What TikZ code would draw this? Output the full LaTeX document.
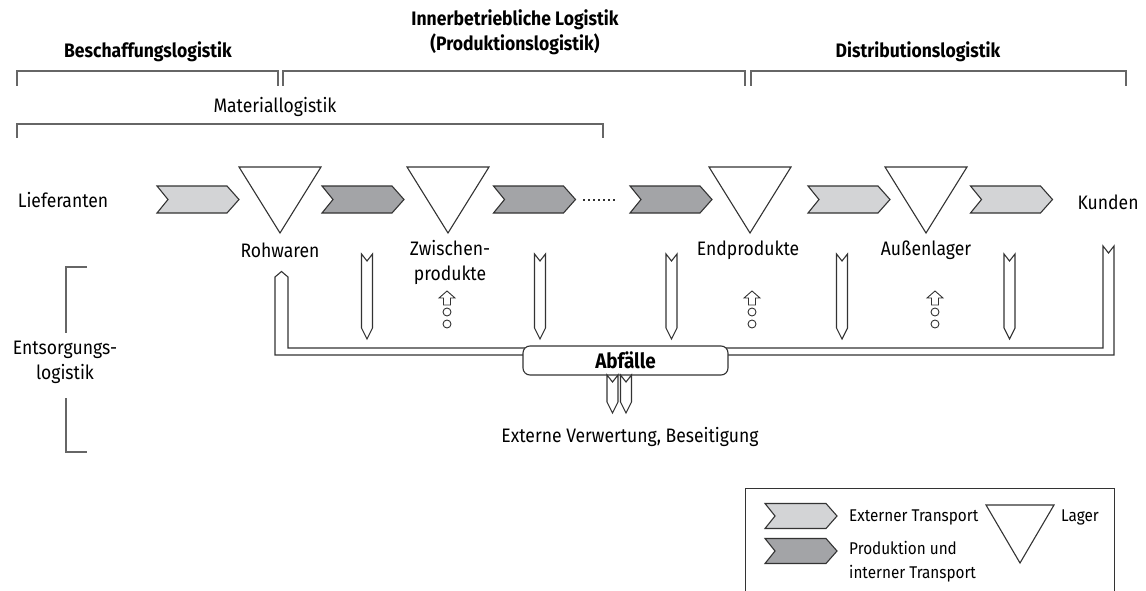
\documentclass[tikz,border=0pt]{standalone}
\usepackage{fontspec}
\setmainfont{Fira Sans}[FakeStretch=0.9]
\usetikzlibrary{calc}
\definecolor{extgray}{HTML}{D3D4D6}
\definecolor{prodgray}{HTML}{A3A4A7}
\definecolor{inkgray}{HTML}{333333}
\tikzset{>=latex}
\tikzset{
	outline/.style = {line width = 1.1pt, draw = inkgray, line join = miter},
	lbl/.style = {inner sep = 0pt, align = center, font = \fontsize{19.5}{25}\selectfont},
	head/.style = {lbl, font = \fontsize{19.5}{25}\selectfont\bfseries},
	legtxt/.style = {lbl, anchor = west, align = left, font = \fontsize{17}{24}\selectfont},
	brace/.style = {line width = 1.3pt, draw = black!60},
	pics/chev/.style = {code = {
		\draw[outline, fill = #1] (-41,-13.5) -- (29,-13.5) -- (41,0) -- (29,13.5)
			-- (-41,13.5) -- (-30,0) -- cycle;
	}},
	pics/smallchev/.style = {code = {
		\draw[outline, fill = #1] (-36,-12.5) -- (25,-12.5) -- (36,0) -- (25,12.5)
			-- (-36,12.5) -- (-26,0) -- cycle;
	}},
	pics/lager/.style = {code = {
		\draw[outline, fill = white] (-41,-33) -- (41,-33) -- (0,33) -- cycle;
	}},
	pics/tubedown/.style = {code = {
		\draw[outline, fill = white] (-5.5,0) -- (0,7) -- (5.5,0) -- (5.5,#1)
			-- (0,{#1 + 11}) -- (-5.5,#1) -- cycle;
	}},
	pics/uparrow/.style = {code = {
		\draw[outline, line width = 0.9pt] (0,0) -- (8,7) -- (3.5,7) -- (3.5,14)
			-- (-3.5,14) -- (-3.5,7) -- (-8,7) -- cycle;
		\draw[outline, line width = 0.9pt] (0,21) circle [radius = 4pt];
		\draw[outline, line width = 0.9pt] (0,33) circle [radius = 4pt];
	}}
}

\begin{document}
\begin{tikzpicture}[x = 1pt, y = -1pt]
\clip (0,0) rectangle (1146,591);

% headings and brackets
\node[head] (beschaff) at (148,52) {Beschaffungslogistik};
\node[head] (innerb) at (515,32) {Innerbetriebliche Logistik\\(Produktionslogistik)};
\node[head] (distrib) at (918,52) {Distributionslogistik};
\node[lbl] (matlog) at (275,107) {Materiallogistik};
\foreach \a/\b in {17/278, 283/745, 751/1126}
	\draw[brace] (\a,86) -- (\a,71) -- (\b,71) -- (\b,86);
\draw[brace] (17,138) -- (17,124) -- (603,124) -- (603,138);

% material flow
\node[lbl] (lief) at (63,200) {Lieferanten};
\node[lbl] (kunden) at (1108,202) {Kunden};
\foreach \x/\c in {198/extgray, 363/prodgray, 534.5/prodgray, 671/prodgray, 849/extgray, 1011.5/extgray}
	\pic at (\x,199.5) {chev = \c};
\foreach \x in {280, 448, 750, 926}
	\pic at (\x,200) {lager};
\draw[inkgray, line width = 1.8pt, dash pattern = on 2pt off 3pt] (583,200) -- (616,200);

\node[lbl] (roh) at (280,250) {Rohwaren};
\node[lbl] (zwi) at (450,262) {Zwischen-\\produkte};
\node[lbl] (endp) at (748,250) {Endprodukte};
\node[lbl] (aussen) at (926,250) {Außenlager};

% waste flow
\draw[outline, fill = white] (1114,246) -- (1114,355) -- (275,355) -- (275,277)
	-- (281.5,271.5) -- (288,277) -- (288,348) -- (1103,348) -- (1103,246)
	-- (1108.5,253) -- cycle;
\foreach \x in {367, 540, 671.5, 842, 1009.5}
	\pic at (\x,254) {tubedown = 74};
\foreach \x in {447, 752, 935}
	\pic at (\x,291) {uparrow};
\node[outline, fill = white, rounded corners = 7pt, minimum width = 205pt, minimum height = 29pt,
	font = \fontsize{21}{25}\selectfont\bfseries] (abf) at (625.5,360.5) {Abfälle};
\foreach \x in {612.5, 626}
	\pic at (\x,375) {tubedown = 27};
\node[lbl] (extv) at (630,437) {Externe Verwertung, Beseitigung};

\node[lbl] (entsorg) at (65,362.5) {Entsorgungs-\\logistik};
\draw[brace] (87,267) -- (66,267) -- (66,333);
\draw[brace] (66,398) -- (66,452) -- (87,452);

% legend
\draw[outline, line width = 1pt] (745,600) -- (745,488) -- (1114,488) -- (1114,600);
\pic at (801,516) {smallchev = extgray};
\pic at (801,551) {smallchev = prodgray};
\node[legtxt] (legext) at (849,517) {Externer Transport};
\node[legtxt] (legprod) at (849,562) {Produktion und\\interner Transport};
\draw[outline, fill = white] (986,505) -- (1054,505) -- (1020,563) -- cycle;
\node[legtxt] (leglager) at (1061,517) {Lager};

\end{tikzpicture}
\end{document}
